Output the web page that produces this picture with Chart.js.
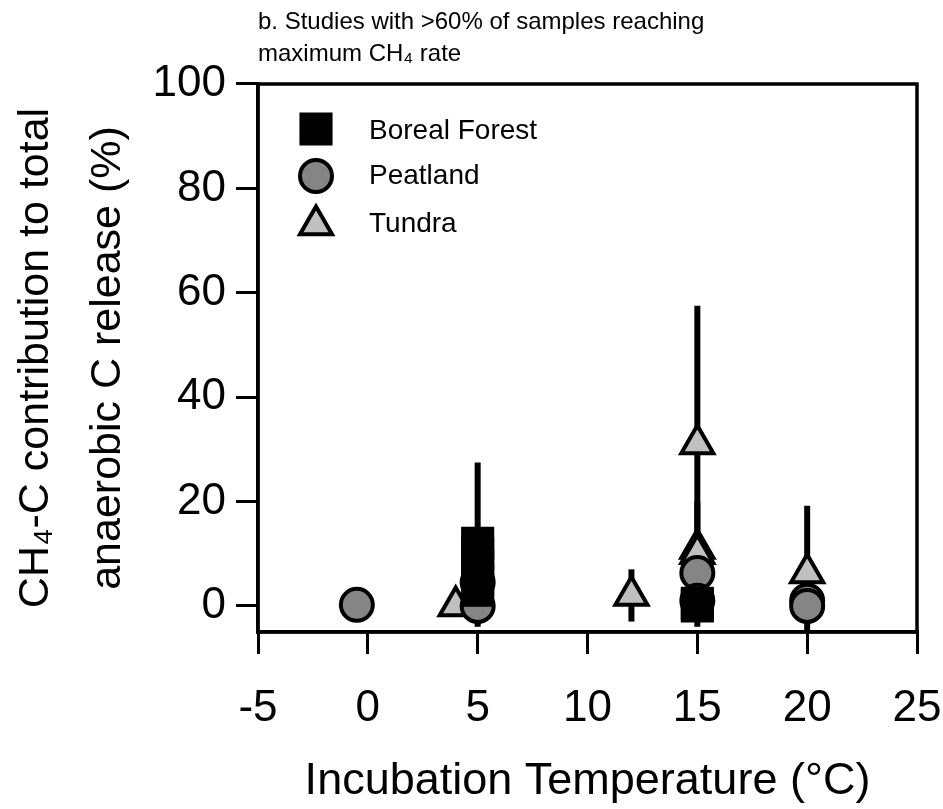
<!DOCTYPE html>
<html>
<head>
<meta charset="utf-8">
<script src="https://cdn.jsdelivr.net/npm/chart.js@4.4.1/dist/chart.umd.min.js"></script>
<style>
  html, body { margin: 0; padding: 0; background: #fff; }
</style>
</head>
<body>
<canvas id="chart" width="943" height="809"></canvas>
<script>
// values (x = temperature, y = %, err = error bar half length)
const borealX   = [5, 5, 5, 5, 5, 15, 15];
const borealY   = [12, 10, 7.5, 5, 3, 0.5, 0];
const borealErr = [15.5, 0, 0, 0, 0, 4.5, 0];

const peatX   = [-0.5, 5, 5, 15, 15, 20, 20];
const peatY   = [0.2, 0, 4.5, 6.3, 1, 1, 0];
const peatErr = [0, 4, 0, 0, 0, 0, 0];

const tundraX   = [4, 12, 15, 15, 15, 20];
const tundraY   = [0, 2, 31, 11, 10, 6.3];
const tundraErr = [0, 5, 26.5, 9, 0, 12.9];

const xTicks = [-5, 0, 5, 10, 15, 20, 25];
const yTicks = [0, 20, 40, 60, 80, 100];

const seriesNames = ['Boreal Forest', 'Peatland', 'Tundra'];

function points(xs, ys, errs) {
    return xs.map((x, i) => ({ x: x, y: ys[i], err: errs[i] }));
}

Chart.defaults.font.family = '"Liberation Sans", Arial, sans-serif';
Chart.defaults.color = '#000';

// vertical error bars, drawn under the markers
const errorBars = {
    id: 'errorBars',
    beforeDatasetsDraw(chart) {
        const { ctx, chartArea: a, scales: { x, y } } = chart;
        ctx.save();
        ctx.beginPath();
        ctx.rect(a.left, a.top, a.right - a.left, a.bottom - a.top);
        ctx.clip();
        ctx.strokeStyle = '#000';
        ctx.lineWidth = 6;
        chart.data.datasets.forEach(ds => {
            ds.data.forEach(p => {
                if (!p.err) return;
                const px = x.getPixelForValue(p.x);
                ctx.beginPath();
                ctx.moveTo(px, y.getPixelForValue(p.y - p.err));
                ctx.lineTo(px, y.getPixelForValue(p.y + p.err));
                ctx.stroke();
            });
        });
        ctx.restore();
    }
};

// top and right side of the box
const frame = {
    id: 'frame',
    afterDraw(chart) {
        const { ctx, chartArea: a } = chart;
        ctx.save();
        ctx.strokeStyle = '#000';
        ctx.lineWidth = 3.5;
        ctx.strokeRect(a.left, a.top, a.right - a.left, a.bottom - a.top);
        ctx.restore();
    }
};

// legend inside the plot, top left
const insideLegend = {
    id: 'insideLegend',
    afterDraw(chart) {
        const { ctx } = chart;
        const rows = [129, 176, 225];
        const textRows = [131, 176, 224];
        ctx.save();
        chart.data.datasets.forEach((ds, i) => {
            ctx.fillStyle = ds.backgroundColor;
            ctx.strokeStyle = ds.borderColor;
            ctx.lineWidth = ds.borderWidth;
            Chart.helpers.drawPoint(ctx, {
                pointStyle: ds.pointStyle,
                radius: ds.pointRadius,
                rotation: 0,
                borderWidth: ds.borderWidth
            }, 316, rows[i]);
            ctx.fillStyle = '#000';
            ctx.font = '28px "Liberation Sans", Arial, sans-serif';
            ctx.textBaseline = 'middle';
            ctx.textAlign = 'left';
            ctx.fillText(ds.label, 369, textRows[i]);
        });
        ctx.restore();
    }
};

const ctx = document.getElementById('chart').getContext('2d');
const chart = new Chart(ctx, {
    type: 'scatter',
    data: {
        datasets: [{
            label: seriesNames[0],
            data: points(borealX, borealY, borealErr),
            pointStyle: 'rect',
            pointRadius: 22,
            backgroundColor: '#000000',
            borderColor: '#000000',
            borderWidth: 2
        }, {
            label: seriesNames[1],
            data: points(peatX, peatY, peatErr),
            pointStyle: 'circle',
            pointRadius: 16,
            backgroundColor: '#858585',
            borderColor: '#000000',
            borderWidth: 4
        }, {
            label: seriesNames[2],
            data: points(tundraX, tundraY, tundraErr),
            pointStyle: 'triangle',
            pointRadius: 18.5,
            backgroundColor: '#c0c0c0',
            borderColor: '#000000',
            borderWidth: 4
        }]
    },
    options: {
        responsive: false,
        animation: false,
        devicePixelRatio: 1,
        events: [],
        layout: { padding: { right: 26 } },
        plugins: {
            legend: { display: false },
            tooltip: { enabled: false },
            title: {
                display: true,
                text: ['b. Studies with >60% of samples reaching', 'maximum CH\u2084 rate'],
                align: 'start',
                fullSize: false,
                color: '#000',
                font: { size: 24, weight: 'normal', lineHeight: 1.3333 },
                padding: { top: 6, bottom: 14 }
            }
        },
        scales: {
            x: {
                type: 'linear',
                min: -5,
                max: 25,
                afterBuildTicks: s => { s.ticks = xTicks.map(v => ({ value: v })); },
                afterFit: s => {
                    s.height = 177;
                    s.paddingLeft = 0;
                    s.paddingRight = 0;
                },
                ticks: {
                    font: { size: 44 },
                    color: '#000',
                    padding: 28,
                    maxRotation: 0,
                    autoSkip: false,
                    callback: v => String(v)
                },
                grid: { drawOnChartArea: false, tickLength: 22, lineWidth: 3, color: '#000' },
                border: { color: '#000', width: 3.5 },
                title: {
                    display: true,
                    text: 'Incubation Temperature (\u00B0C)',
                    color: '#000',
                    font: { size: 45, lineHeight: 1.2 },
                    padding: 0
                }
            },
            y: {
                type: 'linear',
                min: -5,
                max: 100,
                afterBuildTicks: s => { s.ticks = yTicks.map(v => ({ value: v })); },
                afterFit: s => { s.width = 258; },
                ticks: {
                    font: { size: 44 },
                    color: '#000',
                    padding: 10,
                    callback: v => String(v)
                },
                grid: { drawOnChartArea: false, tickLength: 22, lineWidth: 3, color: '#000' },
                border: { color: '#000', width: 3.5 },
                title: {
                    display: true,
                    text: ['CH\u2084-C contribution to total', 'anaerobic C release (%)'],
                    color: '#000',
                    font: { size: 43, lineHeight: 1.68 },
                    padding: { top: 0, bottom: 0 }
                }
            }
        }
    },
    plugins: [errorBars, frame, insideLegend]
});
</script>
</body>
</html>
